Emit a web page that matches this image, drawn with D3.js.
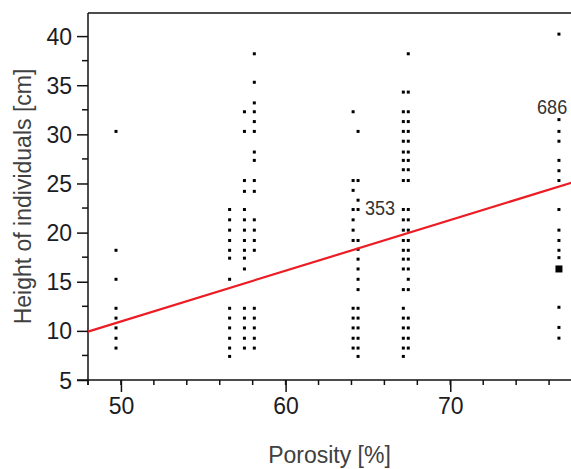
<!DOCTYPE html>
<html>
<head>
<meta charset="utf-8">
<script src="https://cdn.jsdelivr.net/npm/d3@7"></script>
<style>
  html, body { margin: 0; padding: 0; background: #fff; }
  svg { display: block; }
  text { font-family: "Liberation Sans", Arial, sans-serif; }
</style>
</head>
<body>
<svg id="chart" width="571" height="469"></svg>
<script>
// porosity of each sampled site [%]
var porosity = [49.7, 56.6, 57.5, 58.1, 64.1, 64.4, 67.15, 67.45, 76.6];

// heights of individuals [cm] measured at each porosity
var site497 = [30.3, 18.2, 15.25, 12.3, 11.3, 10.3, 9.25, 8.25];
var site566 = [22.35, 21.3, 20.25, 19.2, 18.2, 17.4, 15.25, 12.3, 11.3, 10.3, 9.25, 8.25, 7.4];
var site575 = [32.3, 30.3, 25.3, 24.2, 22.35, 21.3, 20.25, 19.2, 18.2, 17.4, 16.3, 12.3, 11.3, 10.3, 9.25, 8.25];
var site581 = [38.2, 35.3, 33.2, 32.3, 31.3, 30.3, 28.2, 27.35, 25.3, 24.2, 21.3, 20.25, 19.2, 18.2, 12.3, 11.3, 10.3, 9.25, 8.25];
var site641 = [32.3, 25.3, 24.3, 22.35, 21.3, 20.25, 19.2, 12.3, 11.3, 10.3, 9.25, 8.25];
var site644 = [30.3, 25.3, 23.3, 22.35, 19.2, 18.3, 17.3, 16.3, 15.25, 14.2, 12.3, 11.3, 10.3, 9.25, 8.25, 7.4];
var site6715 = [34.3, 32.3, 31.3, 30.3, 29.3, 28.2, 27.35, 26.4, 25.3, 22.35, 21.3, 20.25, 19.2, 18.2, 17.3, 16.3, 14.2, 12.3, 11.3, 10.3, 9.25, 8.25, 7.4];
var site6745 = [38.2, 34.3, 32.3, 31.3, 30.3, 29.3, 28.2, 27.35, 26.4, 25.3, 22.35, 21.3, 20.25, 19.2, 18.2, 17.3, 16.3, 15.25, 14.2, 11.3, 10.3, 9.25, 8.25];
var site766 = [40.2, 31.5, 30.3, 29.3, 27.35, 26.3, 25.3, 22.35, 20.25, 19.2, 18.2, 17.45, 16.3, 16.3, 16.3, 16.3, 12.4, 10.35, 9.26];

var heights = [site497, site566, site575, site581, site641, site644, site6715, site6745, site766];

// linear fit drawn over the points
var fitIntercept = -14.84;
var fitSlope = 0.516;

// point labels
var labelText = ["353", "686"];
var labelPorosity = [64.82, 75.27];
var labelHeight = [21.8, 32.06];

var xTicks = [50, 60, 70];
var xMinor = d3.range(48, 79, 2);
var yTicks = [5, 10, 15, 20, 25, 30, 35, 40];
var yMinor = d3.range(7.5, 42, 5);

var svg = d3.select("#chart");

var x = d3.scaleLinear().domain([48, 78]).range([88, 582]);
var y = d3.scaleLinear().domain([5, 42.35]).range([380, 13]);

// flatten points, counting repeats so stacked individuals show as a bigger square
var points = [];
heights.forEach(function (col, i) {
    var counts = d3.rollup(col, function (v) { return v.length; }, function (d) { return d; });
    counts.forEach(function (n, h) {
        points.push({ p: porosity[i], h: h, n: n });
    });
});

// frame: top edge and axes
svg.append("line")
    .attr("x1", x(48)).attr("x2", x(78))
    .attr("y1", y(42.35)).attr("y2", y(42.35))
    .attr("stroke", "#111").attr("stroke-width", 1.5);

var xAxis = d3.axisBottom(x).tickValues(xTicks).tickSize(12).tickFormat(d3.format("d")).tickSizeOuter(0);
var gx = svg.append("g").attr("transform", "translate(0," + y(5) + ")").call(xAxis);
gx.selectAll(".tick").filter(function (d) { return false; });
gx.append("g").selectAll("line").data(xMinor).join("line")
    .attr("x1", function (d) { return x(d); }).attr("x2", function (d) { return x(d); })
    .attr("y1", 0).attr("y2", 5)
    .attr("stroke", "#111").attr("stroke-width", 1.5);
gx.select(".domain").attr("d", "M" + (x(48) - 11) + ",0H" + x(78));

var yAxis = d3.axisLeft(y).tickValues(yTicks).tickSize(11).tickFormat(d3.format("d")).tickSizeOuter(0);
var gy = svg.append("g").attr("transform", "translate(" + x(48) + ",0)").call(yAxis);
gy.append("g").selectAll("line").data(yMinor).join("line")
    .attr("x1", -6).attr("x2", 0)
    .attr("y1", function (d) { return y(d); }).attr("y2", function (d) { return y(d); })
    .attr("stroke", "#111").attr("stroke-width", 1.5);
gy.select(".domain").attr("d", "M0," + y(42.35) + "V" + (y(5) + 5));

svg.selectAll(".domain").attr("stroke", "#111").attr("stroke-width", 1.5);
svg.selectAll(".tick line").attr("stroke", "#111").attr("stroke-width", 1.5);
svg.selectAll(".tick text")
    .attr("fill", "#1c1c24")
    .style("font-size", "23px")
    .style("font-family", "\"Liberation Sans\", Arial, sans-serif");
gx.selectAll(".tick text").attr("y", 18).attr("dy", "0.71em");
gy.selectAll(".tick text").attr("x", -16).attr("dy", "0.35em");

// points
svg.append("g").selectAll("rect").data(points).join("rect")
    .attr("x", function (d) { var s = d.n > 1 ? 7 : 3; return x(d.p) - s / 2; })
    .attr("y", function (d) { var s = d.n > 1 ? 7 : 3; return y(d.h) - s / 2; })
    .attr("width", function (d) { return d.n > 1 ? 7 : 3; })
    .attr("height", function (d) { return d.n > 1 ? 7 : 3; })
    .attr("fill", "#000");

// regression line
svg.append("line")
    .attr("x1", x(48)).attr("y1", y(fitIntercept + fitSlope * 48))
    .attr("x2", x(78)).attr("y2", y(fitIntercept + fitSlope * 78))
    .attr("stroke", "#ec1c24").attr("stroke-width", 2.2);

// labels
labelText.forEach(function (t, i) {
    svg.append("text")
        .attr("transform", "translate(" + x(labelPorosity[i]) + "," + y(labelHeight[i]) + ") scale(0.86,1)")
        .attr("fill", "#333")
        .style("font-size", "21px")
        .text(t);
});

// axis titles
svg.append("text")
    .attr("x", (x(48) + 571) / 2).attr("y", 463)
    .attr("text-anchor", "middle")
    .attr("fill", "#404040")
    .style("font-size", "23px")
    .text("Porosity [%]");

svg.append("text")
    .attr("transform", "translate(31," + (y(5) + y(42.35)) / 2 + ") rotate(-90)")
    .attr("text-anchor", "middle")
    .attr("fill", "#404040")
    .style("font-size", "23px")
    .text("Height of individuals [cm]");
</script>
</body>
</html>
